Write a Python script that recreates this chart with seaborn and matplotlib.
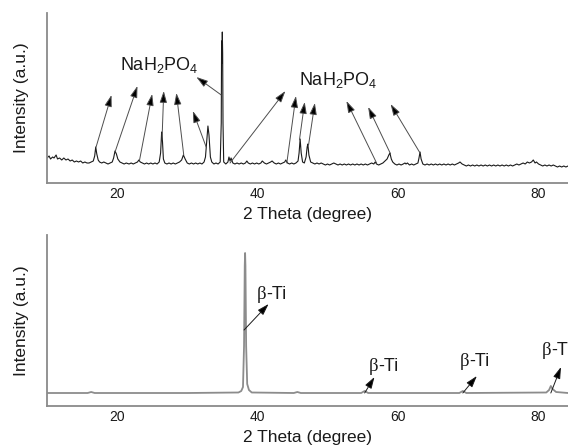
import matplotlib
matplotlib.use("Agg")
import matplotlib.pyplot as plt
import numpy as np
import pandas as pd
import seaborn as sns

# ---- data (2 theta in degrees, intensity in a.u.) ----
top_theta = [
    10.0, 10.3, 10.5, 10.8, 11.0, 11.3, 11.5, 11.8, 12.1, 12.4, 12.7, 13.0, 13.3, 13.6, 13.9, 14.2,
    14.5, 14.8, 15.1, 15.4, 15.7, 16.0, 16.3, 16.6, 16.8, 16.95, 17.1, 17.3, 17.5, 17.8, 18.1, 18.4,
    18.7, 19.0, 19.3, 19.5, 19.7, 19.9, 20.1, 20.4, 20.7, 21.0, 21.3, 21.7, 22.0, 22.3, 22.6, 22.9,
    23.1, 23.3, 23.6, 23.9, 24.2, 24.5, 24.8, 25.1, 25.4, 25.7, 26.0, 26.2, 26.35, 26.45, 26.6, 26.8,
    27.1, 27.4, 27.7, 28.0, 28.3, 28.6, 28.9, 29.2, 29.45, 29.7, 30.0, 30.3, 30.6, 30.9, 31.2, 31.5,
    31.8, 32.1, 32.4, 32.6, 32.8, 32.95, 33.1, 33.3, 33.5, 33.8, 34.1, 34.4, 34.7, 34.85, 34.9, 34.95,
    35.0, 35.05, 35.1, 35.2, 35.5, 35.8, 35.95, 36.1, 36.25, 36.5, 36.8, 37.1, 37.4, 37.7, 38.0, 38.3,
    38.5, 38.7, 39.0, 39.3, 39.6, 39.9, 40.2, 40.5, 40.7, 41.0, 41.3, 41.6, 41.9, 42.1, 42.4, 42.7,
    43.0, 43.3, 43.6, 43.9, 44.05, 44.3, 44.6, 44.9, 45.2, 45.5, 45.8, 45.95, 46.1, 46.25, 46.45, 46.7,
    46.95, 47.1, 47.2, 47.35, 47.6, 47.9, 48.2, 48.5, 48.8, 49.1, 49.4, 49.7, 50.0, 50.3, 50.6, 50.9,
    51.2, 51.5, 51.8, 52.1, 52.4, 52.7, 53.0, 53.3, 53.6, 53.9, 54.2, 54.5, 54.8, 55.1, 55.4, 55.7,
    56.0, 56.3, 56.6, 56.8, 57.0, 57.3, 57.6, 57.9, 58.2, 58.5, 58.75, 58.9, 59.1, 59.3, 59.6, 59.9,
    60.2, 60.5, 60.8, 61.05, 61.2, 61.4, 61.7, 62.0, 62.3, 62.6, 62.9, 63.05, 63.2, 63.35, 63.6, 63.9,
    64.2, 64.5, 64.8, 65.1, 65.4, 65.7, 66.0, 66.3, 66.6, 66.9, 67.2, 67.5, 67.8, 68.1, 68.4, 68.7,
    68.9, 69.2, 69.5, 69.8, 70.1, 70.4, 70.7, 71.0, 71.3, 71.6, 71.9, 72.2, 72.5, 72.8, 73.1, 73.4,
    73.7, 74.0, 74.3, 74.6, 74.9, 75.2, 75.5, 75.8, 76.1, 76.4, 76.7, 77.0, 77.3, 77.6, 77.9, 78.2,
    78.5, 78.8, 79.1, 79.35, 79.6, 79.8, 80.1, 80.4, 80.7, 81.0, 81.3, 81.6, 81.9, 82.2, 82.5, 82.8,
    83.1, 83.4, 83.7, 84.0, 84.3,
]
top_intensity = [
    25, 27, 24, 26, 25, 28, 24, 25, 23, 25, 23, 24, 22, 23, 21, 22,
    21, 22, 20, 21, 20, 20, 21, 22, 27, 36, 29, 23, 21, 20, 21, 20,
    19, 20, 21, 25, 32, 29, 24, 21, 20, 19, 20, 19, 20, 19, 20, 21,
    23, 21, 20, 19, 20, 19, 20, 19, 20, 19, 21, 30, 51, 44, 24, 20,
    19, 20, 19, 20, 19, 20, 21, 23, 28, 24, 20, 19, 20, 19, 20, 19,
    20, 19, 21, 26, 44, 57, 48, 26, 21, 19, 20, 19, 21, 60, 142, 120,
    151, 130, 60, 21, 19, 21, 26, 22, 25, 20, 19, 20, 19, 20, 19, 20,
    22, 20, 19, 20, 19, 20, 19, 20, 22, 20, 19, 20, 21, 22, 20, 19,
    20, 19, 20, 21, 23, 20, 19, 20, 19, 20, 22, 30, 44, 30, 21, 20,
    26, 36, 39, 28, 21, 20, 19, 20, 19, 20, 19, 18, 19, 18, 19, 20,
    19, 18, 19, 18, 19, 18, 19, 18, 19, 18, 19, 18, 19, 18, 19, 18,
    19, 20, 19, 21, 19, 18, 19, 20, 22, 24, 28, 30, 24, 21, 19, 18,
    19, 18, 19, 20, 19, 20, 18, 19, 18, 19, 20, 25, 31, 24, 19, 18,
    19, 18, 19, 18, 19, 18, 19, 18, 19, 18, 19, 18, 19, 18, 19, 20,
    21, 19, 18, 17, 18, 17, 18, 17, 18, 17, 18, 17, 18, 17, 18, 17,
    18, 17, 18, 17, 18, 17, 18, 17, 18, 17, 18, 19, 18, 19, 20, 19,
    21, 20, 21, 23, 20, 21, 19, 18, 17, 18, 17, 18, 17, 18, 17, 16,
    17, 16, 17, 16, 17,
]

bottom_theta = [
    10.0, 15.8, 16.3, 16.8, 30.0, 37.3, 37.7, 37.95, 38.1, 38.2, 38.25, 38.3, 38.4, 38.55,
    38.8, 39.2, 45.2, 45.7, 46.2, 54.8, 55.3, 55.8, 68.8, 69.3, 69.8, 81.2, 81.6, 81.85,
    82.1, 82.6, 84.3,
]
bottom_intensity = [
    13, 13, 14, 13, 13, 13.5, 15, 19, 60, 140, 153, 140, 60, 22,
    16, 13.5, 13, 14, 13, 13, 15, 13, 13, 15, 13, 13.5, 16, 20,
    17, 14, 13,
]

# arrows: (tail theta, tail y) -> (head theta, head y)
top_arrow_tails = [(17.0, 36), (19.7, 31), (23.2, 23), (26.4, 43), (29.5, 28), (32.7, 36),
                   (34.85, 88), (36.1, 20), (44.2, 20), (46.0, 43), (47.3, 38), (57.0, 20),
                   (59.0, 29), (63.2, 30)]
top_arrow_heads = [(19.2, 88), (22.9, 97), (25.0, 89), (26.65, 92), (28.45, 90), (30.8, 72),
                   (31.3, 106), (44.0, 92), (45.5, 87), (46.75, 81), (48.2, 80), (52.7, 82),
                   (55.8, 76), (59.0, 79)]
top_labels = ["NaH$_\\mathsf{2}$PO$_\\mathsf{4}$", "NaH$_\\mathsf{2}$PO$_\\mathsf{4}$"]
top_label_pos = [(26.0, 118), (51.5, 103)]

bottom_arrow_tails = [(38.1, 76), (55.3, 13), (69.3, 13), (81.85, 13)]
bottom_arrow_heads = [(41.6, 102), (56.7, 29), (71.3, 30), (83.3, 39)]
# each label drawn as serif "β" + sans "-Ti", joined at the given theta (baseline y)
bottom_label_pos = [(41.3, 107), (57.3, 35), (70.2, 40), (81.95, 51)]

sns.set_style("white")
plt.rcParams["font.family"] = ["Liberation Sans", "DejaVu Sans"]
plt.rcParams["mathtext.fontset"] = "custom"
plt.rcParams["mathtext.rm"] = "Liberation Sans"
plt.rcParams["mathtext.sf"] = "Liberation Sans"

fig = plt.figure(figsize=(5.68, 4.46), dpi=100)
ax1 = fig.add_axes([47 / 568, 263 / 446, 521 / 568, 170 / 446])
ax2 = fig.add_axes([47 / 568, 40 / 446, 521 / 568, 171 / 446])

df_top = pd.DataFrame({"theta": top_theta, "intensity": top_intensity})
df_bot = pd.DataFrame({"theta": bottom_theta, "intensity": bottom_intensity})

sns.lineplot(data=df_top, x="theta", y="intensity", ax=ax1, color="#1a1a1a",
             lw=0.8, estimator=None, sort=False)
sns.lineplot(data=df_bot, x="theta", y="intensity", ax=ax2, color="#8c8c8c",
             lw=1.3, estimator=None, sort=False)

ax1.set_ylim(0, 170)
ax2.set_ylim(0, 171)


def arrow(ax, tail, head, shaft):
    ax.annotate("", xy=head, xytext=tail,
                arrowprops=dict(arrowstyle="-|>,head_length=0.7,head_width=0.22",
                                ec=shaft, fc="black", lw=0.7, mutation_scale=10,
                                shrinkA=0, shrinkB=0))


for t, h in zip(top_arrow_tails, top_arrow_heads):
    arrow(ax1, t, h, "#4d4d4d")
for txt, (x, y) in zip(top_labels, top_label_pos):
    ax1.text(x, y, txt, ha="center", va="center", fontsize=13, color="#1a1a1a")

for t, h in zip(bottom_arrow_tails, bottom_arrow_heads):
    arrow(ax2, t, h, "#1a1a1a")
for x, y in bottom_label_pos:
    ax2.text(x, y, "β", ha="right", va="baseline", fontsize=13.5, color="#1a1a1a",
             family=["Liberation Serif", "DejaVu Serif"], clip_on=False)
    ax2.text(x, y, "-Ti", ha="left", va="baseline", fontsize=13, color="#1a1a1a",
             clip_on=False)

for ax in (ax1, ax2):
    ax.set_xlim(10, 84.3)
    ax.set_xticks([20, 40, 60, 80])
    ax.set_yticks([])
    ax.tick_params(axis="x", length=0, pad=3, labelsize=10, labelcolor="#1a1a1a")
    ax.set_xlabel("2 Theta (degree)", fontsize=12.5, color="#1a1a1a", labelpad=4)
    ax.set_ylabel("Intensity (a.u.)", fontsize=12.5, color="#1a1a1a", labelpad=13)
    sns.despine(ax=ax, top=True, right=True)
    for s in ("left", "bottom"):
        ax.spines[s].set_color("#8a8a8a")
        ax.spines[s].set_linewidth(1.3)

fig.savefig("out.png", dpi=100)
